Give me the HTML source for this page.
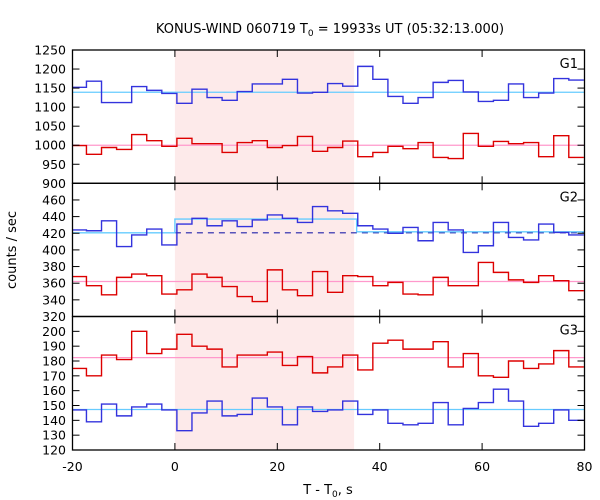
<!DOCTYPE html>
<html><head><meta charset="utf-8">
<style>
html,body{margin:0;padding:0;background:#fff;}
svg{display:block;font-family:"DejaVu Sans","Liberation Sans",sans-serif;}
</style></head>
<body>
<svg id="chart" width="600" height="500" viewBox="0 0 600 500">
<text x="330" y="33" text-anchor="middle" font-size="13">KONUS-WIND 060719 T<tspan font-size="9" dy="3">0</tspan><tspan dy="-3"> = 19933s UT (05:32:13.000)</tspan></text>
<text x="328" y="494" text-anchor="middle" font-size="13">T - T<tspan font-size="9" dy="3">0</tspan><tspan dy="-3">, s</tspan></text>
<text transform="translate(16,250) rotate(-90)" text-anchor="middle" font-size="13">counts / sec</text>
</svg>
<script>
const binStart = -20.22;
const binWidth = 2.944;
const xTicks = [-20, 0, 20, 40, 60, 80];
const shadeRange = [0, 35];

const g1Blue = [1152,1168,1112,1112,1154,1144,1136,1110,1147,1125,1118,1141,1161,1161,1173,1137,1139,1162,1155,1207,1173,1128,1110,1125,1165,1170,1140,1115,1118,1161,1125,1137,1175,1171];
const g1Red = [999,976,994,989,1028,1012,997,1018,1004,1004,981,1007,1012,994,999,1023,984,994,1011,970,981,997,991,1007,968,965,1031,997,1010,1004,1007,970,1025,968];
const g1Bkg = 1139, g1Bkg2 = 1000;
const g1Ticks = [900,950,1000,1050,1100,1150,1200,1250];

const g2Blue = [424,423,435,404,418,425,406,431,438,429,435,428,436,442,438,433,452,447,444,429,425,420,427,411,433,424,397,405,433,415,412,431,421,418];
const g2Red = [368,357,346,367,371,369,347,352,371,367,356,344,338,376,352,345,374,349,369,368,357,361,347,346,367,357,357,385,373,364,361,369,363,351];
const g2BkgPre = 420.5, g2BkgBurst = 437, g2BkgPost = 421.7, g2Bkg2 = 362;
const g2Ticks = [320,340,360,380,400,420,440,460];

const g3Red = [175,170,184,181,200,185,188,198,190,188,176,184,184,186,177,183,172,176,184,174,192,194,188,188,193,176,185,170,169,180,175,178,187,176];
const g3Blue = [147,139,151,143,149,151,147,133,145,153,143,144,155,149,137,149,146,147,153,144,147,138,137,138,152,137,148,152,161,153,136,138,147,140];
const g3Bkg = 147.3, g3Bkg2 = 182.3;
const g3Ticks = [120,130,140,150,160,170,180,190,200];

const NS = "http://www.w3.org/2000/svg";
const svg = document.getElementById('chart');
const L = 72.5, R = 584.5, xMin = -20, xMax = 80;
const X = t => L + (t - xMin) / (xMax - xMin) * (R - L);
const panels = [
  {top:50, bot:183.3, min:900, max:1250, ticks:g1Ticks, label:'G1', name:'g1'},
  {top:183.3, bot:316.5, min:320, max:480, ticks:g2Ticks, label:'G2', name:'g2'},
  {top:316.5, bot:450, min:120, max:210, ticks:g3Ticks, label:'G3', name:'g3'}
];
panels.forEach(p => p.Y = v => p.bot - (v - p.min) / (p.max - p.min) * (p.bot - p.top));

function mk(tag, attrs) {
  const e = document.createElementNS(NS, tag);
  for (const k in attrs) e.setAttribute(k, attrs[k]);
  svg.appendChild(e);
  return e;
}

// clip
const defs = document.createElementNS(NS, 'defs');
const cp = document.createElementNS(NS, 'clipPath');
cp.setAttribute('id', 'plotclip');
const cr = document.createElementNS(NS, 'rect');
cr.setAttribute('x', L); cr.setAttribute('y', 50); cr.setAttribute('width', R - L); cr.setAttribute('height', 400);
cp.appendChild(cr); defs.appendChild(cp); svg.appendChild(defs);

// shading
const sh = mk('rect', {x: X(shadeRange[0]), y: 50, width: X(shadeRange[1]) - X(shadeRange[0]), height: 400, fill: '#fdeaea'});



function stepPath(p, vals) {
  let d = '';
  vals.forEach((v, i) => {
    const x0 = X(binStart + i * binWidth), x1 = X(binStart + (i + 1) * binWidth), y = p.Y(v);
    d += (i === 0 ? 'M' + x0 + ',' + y : 'V' + y) + 'H' + x1;
  });
  return d;
}
function hline(p, v, t0, t1, color, name, dash) {
  const e = mk('line', {x1: X(t0), x2: X(t1), y1: p.Y(v), y2: p.Y(v), stroke: color, 'stroke-width': 1.2, 'clip-path': 'url(#plotclip)'});
  if (dash) e.setAttribute('stroke-dasharray', dash);
  
  
  return e;
}
function series(p, vals, color, name) {
  const e = mk('path', {d: stepPath(p, vals), fill: 'none', stroke: color, 'stroke-width': 1.4, 'clip-path': 'url(#plotclip)'});
  
  
}

const [p1, p2, p3] = panels;
// background lines
hline(p1, g1Bkg, xMin, xMax, '#66ccff', 'g1-blue-background');
hline(p1, g1Bkg2, xMin, xMax, '#ff99cc', 'g1-red-background');
hline(p2, g2Bkg2, xMin, xMax, '#ff99cc', 'g2-red-background');
hline(p2, g2BkgPre, 0, xMax, '#2222aa', 'g2-background-dashed', '6,5');
const bg = mk('path', {d: 'M' + X(xMin) + ',' + p2.Y(g2BkgPre) + 'H' + X(0) + 'V' + p2.Y(g2BkgBurst) + 'H' + X(35.5) + 'V' + p2.Y(g2BkgPost) + 'H' + X(xMax), fill: 'none', stroke: '#66ccff', 'stroke-width': 1.4});


hline(p3, g3Bkg, xMin, xMax, '#66ccff', 'g3-blue-background');
hline(p3, g3Bkg2, xMin, xMax, '#ff99cc', 'g3-red-background');

series(p1, g1Blue, '#3333dd', 'g1-blue-series');
series(p1, g1Red, '#dd0000', 'g1-red-series');
series(p2, g2Blue, '#3333dd', 'g2-blue-series');
series(p2, g2Red, '#dd0000', 'g2-red-series');
series(p3, g3Red, '#dd0000', 'g3-red-series');
series(p3, g3Blue, '#3333dd', 'g3-blue-series');
// redraw background over blue in g2 post? keep as is

// frames, ticks, labels
panels.forEach((p, pi) => {
  const fr = mk('rect', {x: L, y: p.top, width: R - L, height: p.bot - p.top, fill: 'none', stroke: '#000', 'stroke-width': 1.3});
  
  
  p.ticks.forEach(v => {
    const y = p.Y(v);
    mk('line', {x1: L, x2: L + 7, y1: y, y2: y, stroke: '#000', 'stroke-width': 1});
    mk('line', {x1: R - 7, x2: R, y1: y, y2: y, stroke: '#000', 'stroke-width': 1});
    const t = mk('text', {x: 66, y: y + 4.5, 'text-anchor': 'end', 'font-size': 12.5});
    t.textContent = v;
    
    
  });
  xTicks.forEach(v => {
    const x = X(v);
    mk('line', {x1: x, x2: x, y1: p.top, y2: p.top + 7, stroke: '#000', 'stroke-width': 1});
    mk('line', {x1: x, x2: x, y1: p.bot - 7, y2: p.bot, stroke: '#000', 'stroke-width': 1});
  });
  const gl = mk('text', {x: 578, y: p.top + 18, 'text-anchor': 'end', 'font-size': 13});
  gl.textContent = p.label;
  
  
});
xTicks.forEach(v => {
  const t = mk('text', {x: X(v), y: 471, 'text-anchor': 'middle', 'font-size': 12.5});
  t.textContent = v;
  
  
});
</script>
</body></html>
